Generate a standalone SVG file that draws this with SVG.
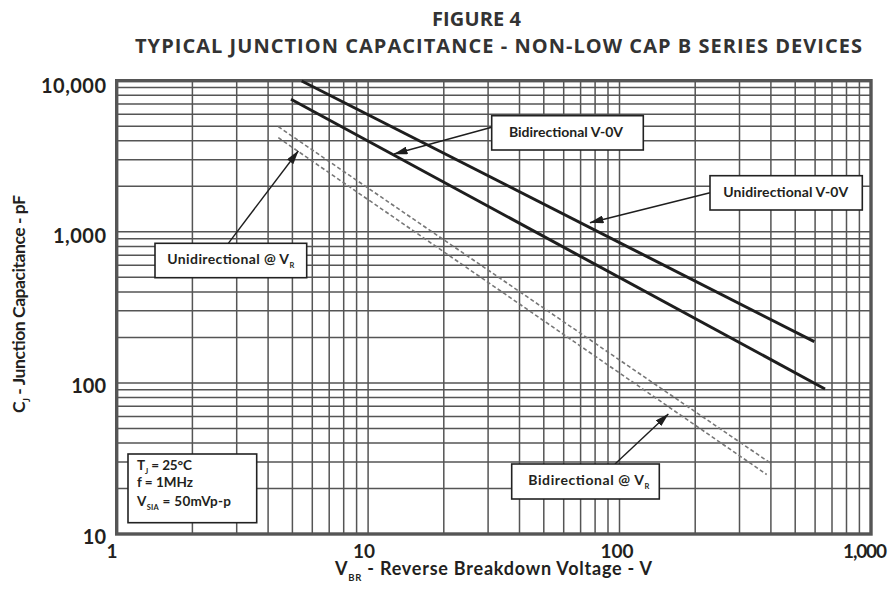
<svg xmlns="http://www.w3.org/2000/svg" width="894" height="591" viewBox="0 0 894 591">
<style>
  text { font-family: Lato, "Open Sans", "Liberation Sans", sans-serif; font-weight: bold; fill: #231f20; }
  .title { font-family: "Open Sans", Lato, "Liberation Sans", sans-serif; font-size: 20px; fill: #333; }
  .tick { font-size: 20px; }
  .xtick { font-size: 19px; }
  .axis { font-size: 18px; }
  .yaxis { font-size: 17.5px; }
  .lbl { font-size: 14px; }
  .cond { font-size: 13.5px; }
  .sub { font-size: 7.5px; }
  .grid { fill: none; stroke: #555; stroke-width: 1.5; }
  .frame { fill: none; stroke: #555; stroke-width: 3.4; }
  .solid { fill: none; stroke: #1e1e1e; stroke-width: 3; stroke-linecap: butt; }
  .dash { fill: none; stroke: #777; stroke-width: 1.6; stroke-dasharray: 4 2.5; }
  .box { fill: #fff; stroke: #222; stroke-width: 1.6; }
  .arrow { fill: none; stroke: #1e1e1e; stroke-width: 1.4; marker-end: url(#ah); }
</style>
<defs>
  <marker id="ah" markerWidth="14" markerHeight="8" refX="13.5" refY="4" orient="auto" markerUnits="userSpaceOnUse">
    <path d="M0,0 L14,4 L0,8 z" fill="#1e1e1e"/>
  </marker>
</defs>
<rect width="894" height="591" fill="#fff"/>

<g id="title">
  <text class="title" x="476.5" y="26" text-anchor="middle" textLength="89" lengthAdjust="spacing">FIGURE 4</text>
  <text class="title" x="498.5" y="53" text-anchor="middle" textLength="727" lengthAdjust="spacing">TYPICAL JUNCTION CAPACITANCE - NON-LOW CAP B SERIES DEVICES</text>
</g>

<g id="grid">
  <path class="grid" d="M192.4 80.7V534M236.7 80.7V534M268.1 80.7V534M292.4 80.7V534M312.3 80.7V534M329.2 80.7V534M343.7 80.7V534M356.6 80.7V534M368.1 80.7V534M443.8 80.7V534M488.1 80.7V534M519.5 80.7V534M543.8 80.7V534M563.7 80.7V534M580.6 80.7V534M595.1 80.7V534M608 80.7V534M619.5 80.7V534M695.2 80.7V534M739.5 80.7V534M770.9 80.7V534M795.2 80.7V534M815.1 80.7V534M832 80.7V534M846.5 80.7V534M859.4 80.7V534"/>
  <path class="grid" d="M116.7 488.5H871M116.7 461.9H871M116.7 443H871M116.7 428.4H871M116.7 416.4H871M116.7 406.3H871M116.7 397.5H871M116.7 389.8H871M116.7 382.9H871M116.7 337.4H871M116.7 310.8H871M116.7 291.9H871M116.7 277.3H871M116.7 265.3H871M116.7 255.2H871M116.7 246.4H871M116.7 238.7H871M116.7 231.8H871M116.7 186.3H871M116.7 159.7H871M116.7 140.8H871M116.7 126.2H871M116.7 114.2H871M116.7 104.1H871M116.7 95.3H871M116.7 87.6H871"/>
  <rect class="frame" x="116.7" y="80.7" width="754.3" height="453.3"/>
</g>

<g id="axis-labels">
  <text class="tick" x="106" y="93.3" text-anchor="end" textLength="65" lengthAdjust="spacing">10,000</text>
  <text class="tick" x="106" y="242.5" text-anchor="end" textLength="53" lengthAdjust="spacing">1,000</text>
  <text class="tick" x="106" y="392.5" text-anchor="end">100</text>
  <text class="tick" x="106" y="544" text-anchor="end">10</text>
  <text class="xtick" x="112" y="558" text-anchor="middle">1</text>
  <text class="xtick" x="364" y="558" text-anchor="middle">10</text>
  <text class="xtick" x="617" y="558" text-anchor="middle">100</text>
  <text class="xtick" x="865" y="558" text-anchor="middle" textLength="44" lengthAdjust="spacing">1,000</text>
  <text class="axis" x="335" y="575" textLength="317" lengthAdjust="spacing">V<tspan font-size="9.5" dy="6">BR</tspan><tspan dy="-6"> - Reverse Breakdown Voltage - V</tspan></text>
  <text class="yaxis" transform="translate(25,304) rotate(-90)" x="0" y="0" text-anchor="middle" textLength="218" lengthAdjust="spacing">C<tspan font-size="9" dy="5">J</tspan><tspan dy="-5"> - Junction Capacitance - pF</tspan></text>
</g>

<g id="curves">
  <path id="uni-0v" class="solid" d="M301.7 81 L814.3 341.7"/>
  <path id="bi-0v" class="solid" d="M291 99.3 L825 389"/>
  <path id="uni-vr" class="dash" d="M278.3 126.7 L771.7 464"/>
  <path id="bi-vr" class="dash" d="M278.3 137.7 L766.7 474.5"/>
</g>

<g id="connectors">
  <path class="arrow" d="M491.7 127.3 L394 154"/>
  <path class="arrow" d="M710 192.7 L590 222.7"/>
  <path class="arrow" d="M228.3 243.3 L298.3 151"/>
  <path class="arrow" d="M615 464 L668.3 414"/>
</g>

<g id="node-bi-0v">
  <rect class="box" x="491.7" y="115.7" width="151.6" height="34.3"/>
  <text class="lbl" x="509" y="136.7" textLength="114" lengthAdjust="spacing">Bidirectional V-0V</text>
</g>
<g id="node-uni-0v">
  <rect class="box" x="710" y="175.7" width="152.3" height="34.3"/>
  <text class="lbl" x="723.3" y="197.3" textLength="125" lengthAdjust="spacing">Unidirectional V-0V</text>
</g>
<g id="node-uni-vr">
  <rect class="box" x="155" y="243.3" width="151.7" height="34.4"/>
  <text class="lbl" x="167.3" y="264.3" textLength="127" lengthAdjust="spacing">Unidirectional @ V<tspan class="sub" dy="3.5">R</tspan></text>
</g>
<g id="node-bi-vr">
  <rect class="box" x="511.7" y="464" width="147.6" height="35"/>
  <text class="lbl" x="528.3" y="485" textLength="121" lengthAdjust="spacing">Bidirectional @ V<tspan class="sub" dy="3.5">R</tspan></text>
</g>
<g id="node-conditions">
  <rect class="box" x="128" y="454" width="128.7" height="68.7"/>
  <text class="cond" x="137" y="470" textLength="55" lengthAdjust="spacing">T<tspan class="sub" dy="3.5">J</tspan><tspan dy="-3.5"> = 25°C</tspan></text>
  <text class="cond" x="137" y="487" textLength="56" lengthAdjust="spacing">f = 1MHz</text>
  <text class="cond" x="137" y="506" textLength="94" lengthAdjust="spacing">V<tspan class="sub" dy="3.5">SIA</tspan><tspan dy="-3.5"> = 50mVp-p</tspan></text>
</g>
</svg>
